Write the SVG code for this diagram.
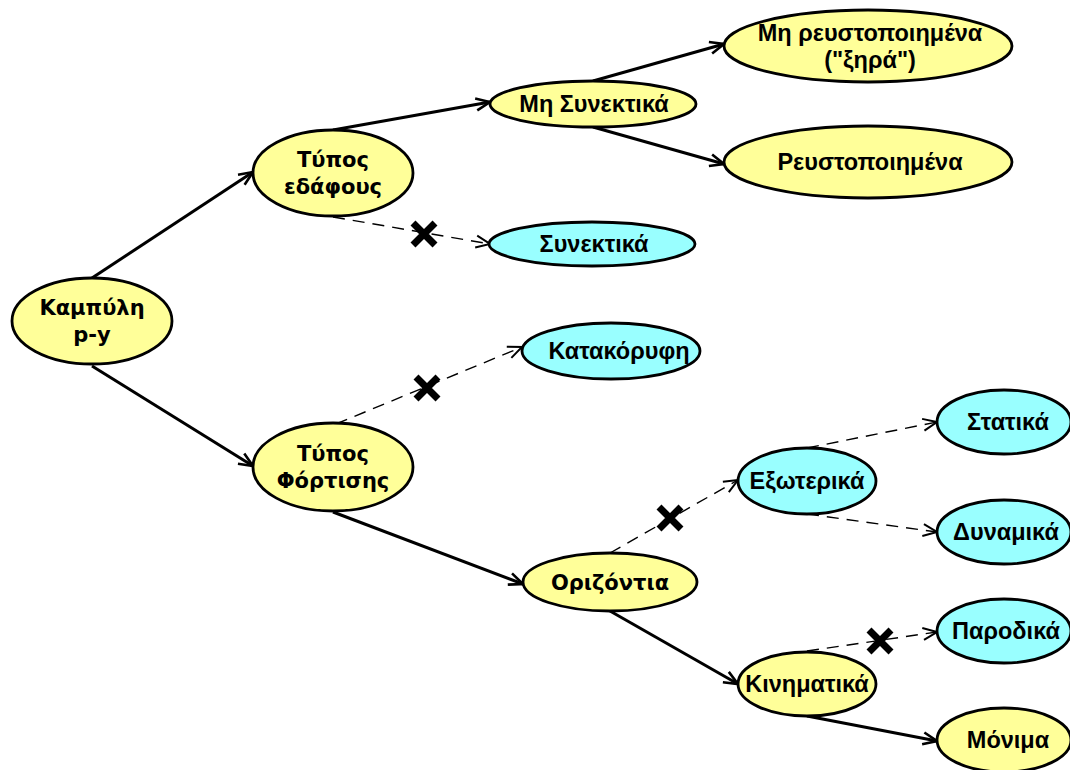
<svg xmlns="http://www.w3.org/2000/svg" width="1070" height="770" viewBox="0 0 1070 770">
<style>
.y{fill:#FFFF99;stroke:#000;stroke-width:2.8}
.c{fill:#99FFFF;stroke:#000;stroke-width:2.8}
.t{font-family:"Liberation Sans",Arial,sans-serif;font-weight:bold;font-size:23.5px;fill:#000;text-anchor:middle}
.d{font-family:"DejaVu Sans",Tahoma,sans-serif;font-weight:bold;font-size:21px;fill:#000;text-anchor:middle}
.s{stroke:#000;stroke-width:3;fill:none}
.ds{stroke:#000;stroke-width:1.4;fill:none;stroke-dasharray:12 8}
.x{stroke:#000;stroke-width:7;stroke-linecap:butt}
</style>
<defs>
<marker id="a" viewBox="0 0 16 16" refX="15" refY="8" markerWidth="16" markerHeight="16" markerUnits="userSpaceOnUse" orient="auto">
<path d="M1,2 L15,8 L1,14" fill="none" stroke="#000" stroke-width="2.6"/>
</marker>
<marker id="b" viewBox="0 0 16 16" refX="15" refY="8" markerWidth="16" markerHeight="16" markerUnits="userSpaceOnUse" orient="auto">
<path d="M1,2 L15,8 L1,14" fill="none" stroke="#000" stroke-width="2"/>
</marker>
</defs>
<g id="connectors">
<line class="s" x1="92" y1="278" x2="253" y2="172" marker-end="url(#a)"/>
<line class="s" x1="92" y1="366" x2="253" y2="466" marker-end="url(#a)"/>
<line class="s" x1="333" y1="130" x2="490" y2="102" marker-end="url(#a)"/>
<line class="ds" x1="333" y1="217" x2="490" y2="244" marker-end="url(#b)"/>
<line class="s" x1="593" y1="81" x2="724" y2="44" marker-end="url(#a)"/>
<line class="s" x1="593" y1="127" x2="724" y2="164" marker-end="url(#a)"/>
<line class="ds" x1="336" y1="424" x2="522" y2="347" marker-end="url(#b)"/>
<line class="s" x1="333" y1="512" x2="523" y2="584" marker-end="url(#a)"/>
<line class="ds" x1="610" y1="553" x2="738" y2="480" marker-end="url(#b)"/>
<line class="ds" x1="807" y1="448" x2="937" y2="422" marker-end="url(#b)"/>
<line class="ds" x1="807" y1="514" x2="937" y2="532" marker-end="url(#b)"/>
<line class="s" x1="610" y1="611" x2="738" y2="684" marker-end="url(#a)"/>
<line class="ds" x1="807" y1="651" x2="937" y2="632" marker-end="url(#b)"/>
<line class="s" x1="807" y1="716" x2="937" y2="741" marker-end="url(#a)"/>
<g id="crosses">
<path class="x" d="M413,223 L435,245 M435,223 L413,245"/>
<path class="x" d="M416,377 L438,399 M438,377 L416,399"/>
<path class="x" d="M659,507 L681,529 M681,507 L659,529"/>
<path class="x" d="M869,630 L891,652 M891,630 L869,652"/>
</g>
</g>
<g id="n-kampyli"><ellipse class="y" cx="92" cy="321" rx="80" ry="43"/><text class="d" x="92" y="315">Καμπύλη</text><text class="d" x="92" y="342">p-y</text></g>
<g id="n-typos-edafous"><ellipse class="y" cx="333" cy="173" rx="80" ry="43"/><text class="d" x="333" y="167">Τύπος</text><text class="d" x="333" y="194">εδάφους</text></g>
<g id="n-typos-fortisis"><ellipse class="y" cx="333" cy="467" rx="80" ry="44"/><text class="d" x="333" y="461">Τύπος</text><text class="d" x="333" y="488">Φόρτισης</text></g>
<g id="n-mi-synektika"><ellipse class="y" cx="593" cy="104" rx="103" ry="23"/><text class="t" x="594" y="112">Μη Συνεκτικά</text></g>
<g id="n-synektika"><ellipse class="c" cx="592" cy="244" rx="103" ry="22"/><text class="t" x="594" y="252">Συνεκτικά</text></g>
<g id="n-mi-revst"><ellipse class="y" cx="868" cy="46" rx="144" ry="36"/><text class="t" x="870" y="41">Μη ρευστοποιημένα</text><text class="t" x="870" y="68">("ξηρά")</text></g>
<g id="n-revst"><ellipse class="y" cx="868" cy="162" rx="144" ry="36"/><text class="t" x="870" y="170">Ρευστοποιημένα</text></g>
<g id="n-katakoryfi"><ellipse class="c" cx="611" cy="351" rx="89" ry="28"/><text class="t" x="619" y="359">Κατακόρυφη</text></g>
<g id="n-orizontia"><ellipse class="y" cx="610" cy="582" rx="87" ry="29"/><text class="d" x="610" y="590">Οριζόντια</text></g>
<g id="n-exoterika"><ellipse class="c" cx="807" cy="481" rx="69" ry="33"/><text class="t" x="807" y="489">Εξωτερικά</text></g>
<g id="n-kinimatika"><ellipse class="y" cx="807" cy="684" rx="69" ry="32"/><text class="t" x="807" y="692">Κινηματικά</text></g>
<g id="n-statika"><ellipse class="c" cx="1004" cy="422" rx="67" ry="32"/><text class="t" x="1008" y="430">Στατικά</text></g>
<g id="n-dynamika"><ellipse class="c" cx="1004" cy="532" rx="67" ry="32"/><text class="t" x="1006" y="540">Δυναμικά</text></g>
<g id="n-parodika"><ellipse class="c" cx="1004" cy="631" rx="67" ry="32"/><text class="t" x="1006" y="639">Παροδικά</text></g>
<g id="n-monima"><ellipse class="y" cx="1004" cy="740" rx="67" ry="32"/><text class="t" x="1008" y="748">Μόνιμα</text></g>
</svg>
